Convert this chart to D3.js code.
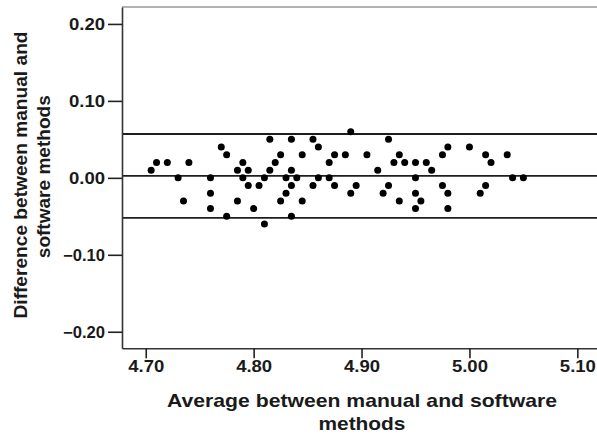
<!DOCTYPE html>
<html>
<head>
<meta charset="utf-8">
<script src="https://cdn.jsdelivr.net/npm/d3@7/dist/d3.min.js"></script>
<style>
  html, body { margin: 0; padding: 0; background: #fff; }
  svg { display: block; }
  text { font-family: "Liberation Sans", Arial, sans-serif; fill: #1a1a1a; }
</style>
</head>
<body>
<svg id="chart" width="597" height="434"></svg>
<script>
// Data (average, difference)
const avgValues = [4.705,4.710,4.720,4.730,4.735,4.740,4.760,4.760,4.760,4.770,4.775,4.775,4.785,4.785,4.790,4.790,4.795,4.795,4.800,4.805,4.810,4.810,4.815,4.815,4.820,4.825,4.825,4.830,4.830,4.835,4.835,4.835,4.835,4.840,4.845,4.845,4.855,4.855,4.860,4.860,4.870,4.870,4.875,4.875,4.885,4.890,4.890,4.895,4.905,4.915,4.920,4.925,4.925,4.930,4.935,4.935,4.940,4.950,4.950,4.950,4.950,4.955,4.960,4.965,4.975,4.975,4.980,4.980,4.980,5.000,5.010,5.015,5.015,5.020,5.035,5.040,5.050];
const diffValues = [0.01,0.02,0.02,0.00,-0.03,0.02,0.00,-0.02,-0.04,0.04,0.03,-0.05,0.01,-0.03,0.02,0.00,0.01,-0.01,-0.04,-0.01,0.00,-0.06,0.01,0.05,0.02,0.03,-0.03,-0.02,0.00,0.05,0.01,-0.01,-0.05,0.00,0.03,-0.03,0.05,-0.01,0.04,0.00,0.02,0.00,0.03,-0.01,0.03,0.06,-0.02,-0.01,0.03,0.01,-0.02,0.05,-0.01,0.02,0.03,-0.03,0.02,0.02,0.00,-0.02,-0.04,-0.03,0.02,0.01,0.03,-0.01,0.04,-0.02,-0.04,0.04,-0.02,0.03,-0.01,0.02,0.03,0.00,0.00];
const refLines = [0.057, 0.0025, -0.052]; // upper limit, mean, lower limit
const xTicks = [4.70, 4.80, 4.90, 5.00, 5.10];
const yTicks = [0.20, 0.10, 0.00, -0.10, -0.20];
const xTitle = ["Average between manual and software", "methods"];
const yTitle = ["Difference between manual and", "software methods"];

const svg = d3.select("#chart");
const plotLeft = 122, plotTop = 7, plotBottom = 348.3;

const x = d3.scaleLinear().domain([4.678, 5.14]).range([plotLeft, 620.5]);
const y = d3.scaleLinear().domain([-0.2215, 0.2220]).range([plotBottom, plotTop]);

// top border
svg.append("line")
  .attr("x1", plotLeft).attr("x2", 597).attr("y1", plotTop).attr("y2", plotTop)
  .attr("stroke", "#9a9a9a").attr("stroke-width", 1.6);

// reference lines
svg.selectAll("line.ref").data(refLines).enter().append("line")
  .attr("class", "ref")
  .attr("x1", plotLeft).attr("x2", 597)
  .attr("y1", d => y(d)).attr("y2", d => y(d))
  .attr("stroke", "#1e1e1e").attr("stroke-width", 1.8);

// points
svg.selectAll("circle.pt").data(avgValues).enter().append("circle")
  .attr("class", "pt")
  .attr("cx", d => x(d))
  .attr("cy", (d, i) => y(diffValues[i]))
  .attr("r", 3.5)
  .attr("fill", "#000");

// y axis
const yAxis = svg.append("g")
  .attr("transform", `translate(${plotLeft},0)`)
  .call(d3.axisLeft(y).tickValues(yTicks).tickFormat(d3.format(".2f")).tickSize(14).tickSizeOuter(0).tickPadding(3));
yAxis.select(".domain").attr("stroke", "#333").attr("stroke-width", 1.6);
yAxis.selectAll(".tick line").attr("stroke", "#222").attr("stroke-width", 1.6);
yAxis.selectAll(".tick text")
  .attr("font-size", 16).attr("font-weight", "bold")
  .attr("font-family", "Liberation Sans, Arial, sans-serif")
  .attr("fill", "#1a1a1a")
  .attr("text-anchor", "start")
  .attr("dy", null)
  .attr("y", 5.8)
  .each(function(d) {
    const w = d < 0 ? 42 : 36;
    d3.select(this).attr("x", -17 - w).attr("textLength", w).attr("lengthAdjust", "spacingAndGlyphs");
  });

// x axis
const xAxis = svg.append("g")
  .attr("transform", `translate(0,${plotBottom})`)
  .call(d3.axisBottom(x).tickValues(xTicks).tickFormat(d3.format(".2f")).tickSize(10).tickSizeOuter(0));
xAxis.select(".domain").attr("stroke", "#333").attr("stroke-width", 1.6);
xAxis.selectAll(".tick line").attr("stroke", "#222").attr("stroke-width", 1.6);
xAxis.selectAll(".tick text")
  .attr("font-size", 16).attr("font-weight", "bold")
  .attr("font-family", "Liberation Sans, Arial, sans-serif")
  .attr("fill", "#1a1a1a")
  .attr("dy", null)
  .attr("y", 23.5)
  .attr("text-anchor", "start")
  .attr("x", -18)
  .attr("textLength", 36).attr("lengthAdjust", "spacingAndGlyphs");

// x title
const xTitleLens = [390, 87];
const xTitleBase = [407.3, 429.5];
svg.selectAll("text.xt").data(xTitle).enter().append("text")
  .attr("class", "xt")
  .attr("x", (d, i) => 362 - xTitleLens[i] / 2)
  .attr("y", (d, i) => xTitleBase[i])
  .attr("font-size", 19).attr("font-weight", "bold")
  .attr("textLength", (d, i) => xTitleLens[i]).attr("lengthAdjust", "spacingAndGlyphs")
  .text(d => d);

// y title
const yTitleLens = [287, 163];
const yTitleBase = [27, 50];
const yTitleCenter = [175, 176.7];
svg.selectAll("text.yt").data(yTitle).enter().append("text")
  .attr("class", "yt")
  .attr("transform", (d, i) => `translate(${yTitleBase[i]},${yTitleCenter[i] + yTitleLens[i] / 2}) rotate(-90)`)
  .attr("x", 0).attr("y", 0)
  .attr("font-size", 19).attr("font-weight", "bold")
  .attr("textLength", (d, i) => yTitleLens[i]).attr("lengthAdjust", "spacingAndGlyphs")
  .text(d => d);
</script>
</body>
</html>
